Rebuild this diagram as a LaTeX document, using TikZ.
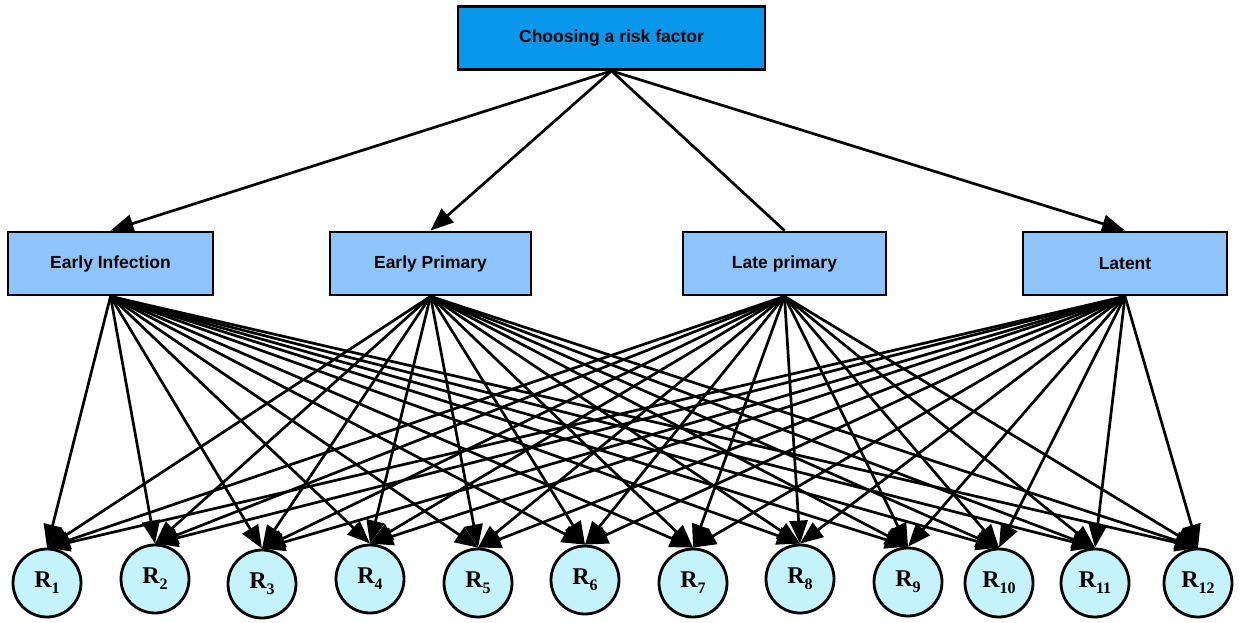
\documentclass[tikz,border=0pt]{standalone}
\usepackage{fontspec}
\setmainfont{Liberation Serif}
\newfontfamily\boxfont{Liberation Sans}
\usetikzlibrary{arrows.meta,calc}
\definecolor{topblue}{HTML}{0897EA}
\definecolor{midblue}{HTML}{8EC4FA}
\definecolor{circcyan}{HTML}{C4F3FB}
\newcommand{\Rlab}[1]{\textbf{R\raisebox{-0.25em}{\fontsize{16}{16}\selectfont #1}}}
\tikzset{
  topbox/.style={draw=black, line width=2.8pt, fill=topblue, minimum width=307pt, minimum height=63pt, inner sep=0pt, font=\boxfont\bfseries\fontsize{17.5}{20}\selectfont},
  midbox/.style={draw=black, line width=2.8pt, fill=midblue, minimum height=63pt, inner sep=0pt, font=\boxfont\bfseries\fontsize{17.5}{20}\selectfont},
  rnode/.style={circle, draw=black, line width=2.8pt, fill=circcyan, minimum size=68pt, inner sep=0pt, font=\fontsize{24}{26}\selectfont},
  conn/.style={line width=2.7pt, draw=black},
  arr/.style={conn, -{Triangle[length=23pt, width=18pt]}},
}
\begin{document}
\begin{tikzpicture}[x=1pt,y=-1pt]
\useasboundingbox (0,0) rectangle (1241,623);
\node[topbox] (top) at (611.5,38) {Choosing a risk factor};
\node[midbox, minimum width=205pt] (m1) at (110.5,263.5) {Early Infection};
\node[midbox, minimum width=201pt] (m2) at (430.5,263.5) {Early Primary};
\node[midbox, minimum width=203pt] (m3) at (784.5,263.5) {Late primary};
\node[midbox, minimum width=204pt] (m4) at (1125,263.5) {Latent};
\foreach \i/\x/\y in {1/47/583, 2/155/579, 3/262/584, 4/370/579, 5/478/583, 6/585/580, 7/693/583, 8/800/579, 9/908/582, 10/999/583, 11/1095/583, 12/1198/583}{
  \node[rnode] (r\i) at (\x,\y) {\Rlab{\i}};
}
% top level edges
\draw[arr] (top.south) -- (m1.north);
\draw[arr] (top.south) -- (m2.north);
\draw[conn] (top.south) -- (m3.north);
\draw[arr] (top.south) -- (m4.north);
% middle to leaves
\foreach \m in {1,2,3,4}{
  \foreach \i in {1,...,12}{
    \draw[arr] (m\m.south) -- (r\i.north);
  }
}
\end{tikzpicture}
\end{document}
